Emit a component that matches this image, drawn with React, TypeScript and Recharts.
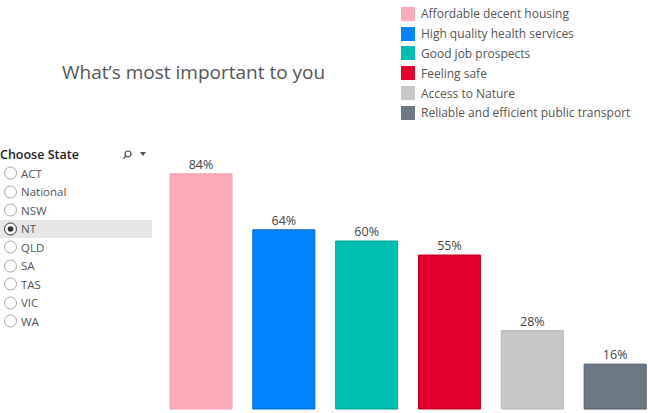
import { BarChart, Bar, XAxis, YAxis, Cell, LabelList } from 'recharts'

const CATEGORIES = [
  'Affordable decent housing',
  'High quality health services',
  'Good job prospects',
  'Feeling safe',
  'Access to Nature',
  'Reliable and efficient public transport',
]
const VALUES = [84, 64, 60, 55, 28, 16]
const FILLS = ['#FCA9B8', '#0083FC', '#00BFB2', '#E3002C', '#C7C7C7', '#6C7884']
const STROKES = ['#F7A2B2', '#0066C8', '#009E93', '#B8001F', '#B8B8B8', '#4F5A66']
const STATES = ['ACT', 'National', 'NSW', 'NT', 'QLD', 'SA', 'TAS', 'VIC', 'WA']
const SELECTED_STATE = 'NT'

const data = CATEGORIES.map((name, i) => ({ name, value: VALUES[i] }))

const FONT = '"Open Sans", Lato, sans-serif'

function StateFilter() {
  return (
    <div style={{ position: 'absolute', left: 0, top: 145, width: 152, fontFamily: FONT }}>
      <div style={{ position: 'relative', height: 19, fontSize: 12.5, fontWeight: 600, color: '#222', lineHeight: '19px' }}>
        Choose State
        <svg width={24} height={10} style={{ position: 'absolute', left: 122, top: 5 }}>
          <circle cx={6} cy={4} r={3} fill="none" stroke="#444" strokeWidth={1.2} />
          <line x1={3.8} y1={6.2} x2={1.5} y2={8.5} stroke="#444" strokeWidth={1.2} />
          <path d="M18 2 L24 2 L21 6 Z" fill="#555" />
        </svg>
      </div>
      {STATES.map(s => (
        <div
          key={s}
          style={{
            height: 18.5,
            display: 'flex',
            alignItems: 'center',
            background: s === SELECTED_STATE ? '#E6E6E6' : 'transparent',
            fontSize: 11.5,
            color: '#555',
          }}
        >
          <svg width={21} height={16}>
            <circle cx={10.5} cy={8} r={6} fill="#fff" stroke="#AAA" strokeWidth={1} />
            {s === SELECTED_STATE && <circle cx={10.5} cy={8} r={2.8} fill="#333" />}
            {s === SELECTED_STATE && <circle cx={10.5} cy={8} r={6} fill="none" stroke="#555" strokeWidth={1} />}
          </svg>
          <span>{s}</span>
        </div>
      ))}
    </div>
  )
}

function ColourLegend() {
  return (
    <div style={{ position: 'absolute', left: 401, top: 4, fontFamily: FONT, fontSize: 12, color: '#555' }}>
      {CATEGORIES.map((c, i) => (
        <div key={c} style={{ height: 19.8, display: 'flex', alignItems: 'center' }}>
          <span style={{ display: 'inline-block', width: 14, height: 14, background: FILLS[i], marginRight: 6 }} />
          <span>{c}</span>
        </div>
      ))}
    </div>
  )
}

export default function App() {
  return (
    <div style={{ position: 'fixed', left: 0, top: 0, width: 648, height: 413, overflow: 'hidden', background: '#fff' }}>
      <div style={{ position: 'absolute', left: 62, top: 59, fontFamily: FONT, fontSize: 19, color: '#555', whiteSpace: 'nowrap' }}>
        What’s most important to you
      </div>
      <ColourLegend />
      <StateFilter />
      <div style={{ position: 'absolute', left: 159.6, top: 0 }}>
        <BarChart width={497} height={413} data={data} margin={{ top: 129, right: 0, bottom: 4, left: 0 }} barSize={62}>
          <XAxis dataKey="name" hide />
          <YAxis domain={[0, 100]} hide />
          <Bar dataKey="value" isAnimationActive={false} strokeWidth={1}>
            {data.map((d, i) => (
              <Cell key={d.name} fill={FILLS[i]} stroke={STROKES[i]} />
            ))}
            <LabelList
              dataKey="value"
              position="top"
              offset={5}
              formatter={(v: number) => `${v}%`}
              style={{ fontFamily: FONT, fontSize: 12.5, fill: '#444' }}
            />
          </Bar>
        </BarChart>
      </div>
    </div>
  )
}
